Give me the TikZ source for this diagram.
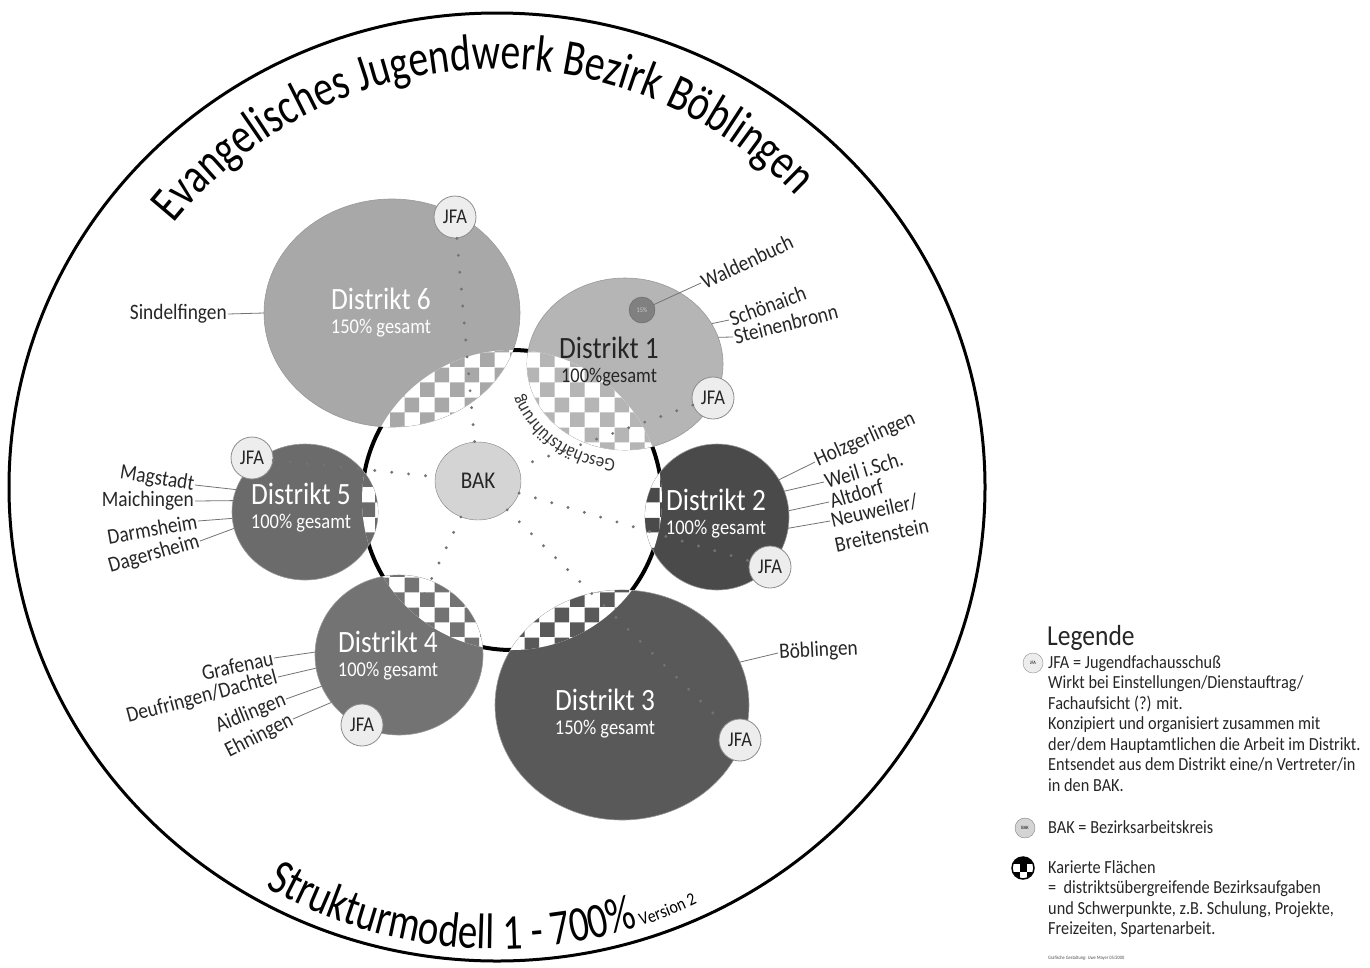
\documentclass[tikz,border=0pt]{standalone}
\usepackage{fontspec}
\setmainfont[FakeStretch=0.88]{Carlito}
\newfontfamily\titlefont[FakeStretch=0.78]{Carlito}
\usepackage{tikz}
\usetikzlibrary{shapes,patterns,decorations.text}
\newcommand{\fsz}[1]{\fontsize{#1}{#1}\selectfont}
\definecolor{dsix}{gray}{0.66}
\definecolor{done}{gray}{0.71}
\definecolor{dtwo}{gray}{0.29}
\definecolor{dthree}{gray}{0.35}
\definecolor{dfour}{gray}{0.45}
\definecolor{dfive}{gray}{0.42}
\pgfdeclarepatternformonly{bigcheck}{\pgfpointorigin}{\pgfpoint{30pt}{30pt}}{\pgfpoint{30pt}{30pt}}{%
  \pgfpathrectangle{\pgfpointorigin}{\pgfpoint{15pt}{15pt}}%
  \pgfpathrectangle{\pgfpoint{15pt}{15pt}}{\pgfpoint{15pt}{15pt}}%
  \pgfusepath{fill}}

\begin{document}
\begin{tikzpicture}[x=1pt, y=-1pt]
\tikzstyle{district}=[ellipse, inner sep=0pt, outer sep=0pt, draw=black!40, line width=0.6pt]
\tikzstyle{jfa}=[circle, draw=black!45, line width=0.8pt, fill=black!7, minimum size=42pt, inner sep=0pt, font=\fsz{21}, text=black!85]
\tikzstyle{dname}=[font=\fsz{31}, text=white, inner sep=0pt]
\tikzstyle{dshare}=[dname, font=\fsz{21}, node distance=29pt]
\tikzstyle{place}=[font=\fsz{22}, text=black!85, inner sep=1pt]
\tikzstyle{leader}=[black!55, line width=0.8pt]
\tikzstyle{connect}=[black!55, line width=3.2pt, line cap=round, dash pattern=on 0pt off 17pt]
\tikzstyle{legend}=[font=\fontsize{18.5}{20.5}\selectfont, text=black!85, align=left, inner sep=0pt, anchor=north west]

  \useasboundingbox (0,0) rectangle (1370,967);

  % outer ring with title
  \draw[line width=3pt] (497,487) ellipse [x radius=488, y radius=474];
  \path[decorate, decoration={text along path, text align=center,
    text={|\titlefont\fsz{51}|Evangelisches Jugendwerk Bezirk Böblingen}}]
    (497,487) ++(-146:416 and 418) arc [start angle=-146, end angle=-39, x radius=416, y radius=418];
  \path[decorate, decoration={text along path,
    text={|\titlefont\fsz{50}|Strukturmodell 1 - 700{\%}|\fsz{18}| Version 2}}]
    (497,487) ++(120:462 and 462) arc [start angle=120, end angle=40, x radius=462, y radius=462];

  \node[circle, draw, line width=4pt, fill=white, minimum size=300pt, inner sep=0pt, outer sep=0pt] (inner) at (512,500) {};

  \node[district, fill=dsix,   minimum width=256pt, minimum height=228pt] (D6) at (392,313) {};
  \node[district, fill=done,   minimum width=196pt, minimum height=172pt] (D1) at (625,364) {};
  \node[district, fill=dtwo,   minimum width=144pt, minimum height=146pt] (D2) at (717,517) {};
  \node[district, fill=dthree, minimum width=254pt, minimum height=230pt] (D3) at (622,705) {};
  \node[district, fill=dfour,  minimum width=168pt, minimum height=160pt] (D4) at (399,655) {};
  \node[district, fill=dfive,  minimum width=146pt, minimum height=136pt] (D5) at (305,512) {};

  % checkered parts inside the ring
  \begin{scope}
    \clip (512,500) circle (150);
    \fill[white] (392,313) ellipse [x radius=128, y radius=114];
    \fill[pattern=bigcheck, pattern color=dsix] (392,313) ellipse [x radius=128, y radius=114];
    \fill[white] (625,364) ellipse [x radius=98, y radius=86];
    \fill[pattern=bigcheck, pattern color=done] (625,364) ellipse [x radius=98, y radius=86];
    \fill[white] (717,517) ellipse [x radius=72, y radius=73];
    \fill[pattern=bigcheck, pattern color=dtwo] (717,517) ellipse [x radius=72, y radius=73];
    \fill[white] (622,705) ellipse [x radius=127, y radius=115];
    \fill[pattern=bigcheck, pattern color=dthree] (622,705) ellipse [x radius=127, y radius=115];
    \fill[white] (399,655) ellipse [x radius=84, y radius=80];
    \fill[pattern=bigcheck, pattern color=dfour] (399,655) ellipse [x radius=84, y radius=80];
    \fill[white] (305,512) ellipse [x radius=73, y radius=68];
    \fill[pattern=bigcheck, pattern color=dfive] (305,512) ellipse [x radius=73, y radius=68];
  \end{scope}

  \path[decorate, decoration={text along path, text align=center, text color=black!80,
    text={|\fsz{19}|Geschäftsführung}}]
    (625,364) ++(94:108 and 96) arc [start angle=94, end angle=163, x radius=108, y radius=96];

  \node[ellipse, draw=black!50, fill=black!17, minimum width=86pt, minimum height=78pt, inner sep=0pt, font=\fsz{24}, text=black!85] (BAK) at (478,481) {BAK};
  \node[jfa] (JFA6) at (455,217) {JFA};
  \node[jfa] (JFA1) at (713,398) {JFA};
  \node[jfa] (JFA2) at (770,567) {JFA};
  \node[jfa] (JFA3) at (740,740) {JFA};
  \node[jfa] (JFA4) at (362,725) {JFA};
  \node[jfa] (JFA5) at (252,458) {JFA};
  \node[circle, draw=black!60, fill=black!50, minimum size=26pt, inner sep=0pt, font=\fsz{7}, text=black!20] (pct) at (642,310) {15\%};

  \path (JFA6) edge [connect] (BAK);
  \path (JFA1) edge [connect] (BAK);
  \path (JFA5) edge [connect] (BAK);
  \path (BAK) edge [connect] (JFA2);
  \path (BAK) edge [connect] (JFA3);
  \path (BAK) edge [connect] (JFA4);

  \node[dname] (D6name) at (381,299) {Distrikt 6};
  \node[dshare, below of=D6name] (D6share) {150\% gesamt};
  \node[dname, text=black!85] (D1name) at (609,348) {Distrikt 1};
  \node[dshare, text=black!85, below of=D1name] (D1share) {100\%gesamt};
  \node[dname] (D2name) at (716,500) {Distrikt 2};
  \node[dshare, below of=D2name] (D2share) {100\% gesamt};
  \node[dname] (D3name) at (605,700) {Distrikt 3};
  \node[dshare, below of=D3name] (D3share) {150\% gesamt};
  \node[dname] (D4name) at (388,642) {Distrikt 4};
  \node[dshare, below of=D4name] (D4share) {100\% gesamt};
  \node[dname] (D5name) at (301,494) {Distrikt 5};
  \node[dshare, below of=D5name] (D5share) {100\% gesamt};

  % places
  \node[place, anchor=west, rotate=25] (wald) at (701,283) {Waldenbuch};
  \node[place, anchor=west, rotate=20] (schoen) at (729,320) {Schönaich};
  \node[place, anchor=west, rotate=14] (stein) at (733,337) {Steinenbronn};
  \node[place, anchor=west, rotate=24] (holz) at (815,462) {Holzgerlingen};
  \node[place, anchor=west, rotate=17] (weil) at (824,482) {Weil i.Sch.};
  \node[place, anchor=west, rotate=17] (alt) at (829,502) {Altdorf};
  \node[place, anchor=west, rotate=13] (neuw) at (830,521) {Neuweiler/};
  \node[place, anchor=west, rotate=12] (breit) at (834,545) {Breitenstein};
  \node[place, anchor=west, rotate=3] (boeb) at (778,653) {Böblingen};
  \node[place, anchor=east] (sifi) at (228,314) {Sindelfingen};
  \node[place, anchor=east, rotate=-9] (mag) at (195,485) {Magstadt};
  \node[place, anchor=east] (maich) at (195,501) {Maichingen};
  \node[place, anchor=east, rotate=10] (darm) at (198,521) {Darmsheim};
  \node[place, anchor=east, rotate=16] (dag) at (200,541) {Dagersheim};
  \node[place, anchor=east, rotate=12] (graf) at (274,658) {Grafenau};
  \node[place, anchor=east, rotate=15] (deuf) at (278,677) {Deufringen/Dachtel};
  \node[place, anchor=east, rotate=22] (aid) at (286,699) {Aidlingen};
  \node[place, anchor=east, rotate=27] (ehn) at (293,719) {Ehningen};

  \draw[leader] (pct) -- (wald.west);
  \draw[leader] (D1.25) -- (schoen.west);
  \draw[leader] (D1.16) -- (stein.west);
  \draw[leader] (D2.31) -- (holz.west);
  \draw[leader] (D2.21) -- (weil.west);
  \draw[leader] (D2.5) -- (alt.west);
  \draw[leader] (D2.-9) -- (neuw.west);
  \draw[leader] (D3.20) -- (boeb.west);
  \draw[leader] (D6.west) -- (sifi.east);
  \draw[leader] (D5.162) -- (mag.east);
  \draw[leader] (D5.171) -- (maich.east);
  \draw[leader] (D5.185) -- (darm.east);
  \draw[leader] (D5.193) -- (dag.east);
  \draw[leader] (D4.178) -- (graf.east);
  \draw[leader] (D4.189) -- (deuf.east);
  \draw[leader] (D4.202) -- (aid.east);
  \draw[leader] (D4.215) -- (ehn.east);

  % legend
  \node[font=\fsz{29}, text=black!85, anchor=base west, inner sep=0pt] (legende) at (1047,645) {Legende};
  \node[circle, draw=black!45, fill=black!7, minimum size=20pt, inner sep=0pt, font=\fsz{5}] (legjfa) at (1033,663) {JFA};
  \node[legend] (legjfatext) at (1048,655) {JFA = Jugendfachausschuß\\Wirkt bei Einstellungen/Dienstauftrag/\\Fachaufsicht (?) mit.\\Konzipiert und organisiert zusammen mit\\der/dem Hauptamtlichen die Arbeit im Distrikt.\\Entsendet aus dem Distrikt eine/n Vertreter/in\\in den BAK.};
  \node[circle, draw=black!50, fill=black!17, minimum size=20pt, inner sep=0pt, font=\fsz{5}] (legbak) at (1025,828) {BAK};
  \node[legend] (legbaktext) at (1048,820) {BAK = Bezirksarbeitskreis};
  \begin{scope}
    \clip (1023,868) circle (10.5);
    \fill[black] (1012,857) rectangle (1034,864);
    \fill[black] (1020,864) rectangle (1027,872);
    \fill[black] (1012,872) rectangle (1020,880);
    \fill[black] (1027,872) rectangle (1034,880);
  \end{scope}
  \node[circle, draw, line width=1.5pt, minimum size=22pt, inner sep=0pt] (legcheck) at (1023,868) {};
  \node[legend] (legchecktext) at (1048,860) {Karierte Flächen\\=\ \ distriktsübergreifende Bezirksaufgaben\\und Schwerpunkte, z.B. Schulung, Projekte,\\Freizeiten, Spartenarbeit.};
  \node[font=\fsz{5}, text=black!70, anchor=base west, inner sep=0pt] (credit) at (1048,959) {Grafische Gestaltung: Uwe Mayer 05/2000};

\end{tikzpicture}
\end{document}
